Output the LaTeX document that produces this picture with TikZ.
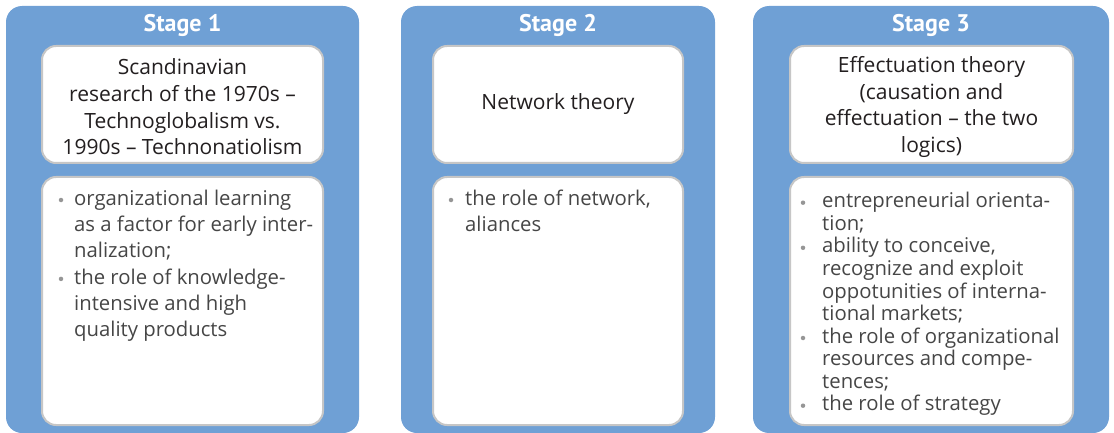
\documentclass[tikz,border=0pt]{standalone}
\usepackage{fontspec}
\setmainfont{Open Sans}
\newfontfamily\titlefont{PT Sans}
\definecolor{panelblue}{RGB}{111,160,213}
\definecolor{boxline}{RGB}{198,198,198}
\definecolor{headtxt}{RGB}{35,31,32}
\definecolor{bultxt}{RGB}{70,70,70}
\definecolor{dotgray}{RGB}{150,150,150}
\tikzset{
  panel/.style={fill=panelblue, draw=none, rounded corners=16pt, inner sep=0pt},
  wbox/.style={fill=white, draw=boxline, line width=2pt, rounded corners=14pt, inner sep=0pt},
  stagetitle/.style={text=white, font=\titlefont\fontsize{24}{28}\selectfont\bfseries, anchor=base, inner sep=0pt},
  headtext/.style={text=headtxt, font=\fontsize{21}{26.6}\selectfont, align=center, inner sep=0pt},
  bullettext/.style={text=bultxt, align=left, inner sep=0pt, anchor=north west},
  bdot/.style={circle, fill=dotgray, inner sep=0pt, minimum size=4.5pt},
}
\begin{document}
\begin{tikzpicture}[x=1pt, y=-1pt]
\useasboundingbox (0,0) rectangle (1114,433);
% panels
\node[panel, minimum width=353pt, minimum height=427pt] (p1) at (182.5,219.5) {};
\node[panel, minimum width=314pt, minimum height=427pt] (p2) at (558,219.5) {};
\node[panel, minimum width=356pt, minimum height=427pt] (p3) at (931,219.5) {};
% titles
\node[stagetitle] (t1) at (182.5,32) {Stage 1};
\node[stagetitle] (t2) at (558,32) {Stage 2};
\node[stagetitle] (t3) at (931,32) {Stage 3};
% heading boxes
\node[wbox, minimum width=281pt, minimum height=117pt] (h1) at (182.5,104.5) {};
\node[wbox, minimum width=250pt, minimum height=117pt] (h2) at (558,104.5) {};
\node[wbox, minimum width=283pt, minimum height=117pt] (h3) at (931.5,104.5) {};
% bullet boxes
\node[wbox, minimum width=281pt, minimum height=248pt] (b1) at (182.5,301) {};
\node[wbox, minimum width=250pt, minimum height=248pt] (b2) at (558,301) {};
\node[wbox, minimum width=283pt, minimum height=248pt] (b3) at (931.5,301) {};
% heading texts
\node[headtext] (ht1) at (182.5,107) {Scandinavian\\research of the 1970s --\\Technoglobalism vs.\\1990s -- Technonatiolism};
\node[headtext] (ht2) at (558,104.5) {Network theory};
\node[headtext] (ht3) at (931.5,107) {Effectuation theory\\(causation and\\effectuation -- the two\\logics)};
% bullet texts
\node[bullettext, font=\fontsize{20.3}{26.3}\selectfont] (bt1) at (74,186.6)
 {\strut organizational learning\\as a factor for early inter-\\nalization;\\the role of knowledge-\\intensive and high\\quality products};
\node[bullettext, font=\fontsize{20.3}{26.3}\selectfont] (bt2) at (465,186.6)
 {\strut the role of network,\\aliances};
\node[bullettext, font=\fontsize{20.3}{22.55}\selectfont] (bt3) at (822,191.9)
 {\strut entrepreneurial orienta-\\tion;\\ability to conceive,\\recognize and exploit\\oppotunities of interna-\\tional markets;\\the role of organizational\\resources and compe-\\tences;\\the role of strategy};
% bullet dots
\node[bdot] (d11) at (61,200) {};
\node[bdot] (d12) at (61,278.9) {};
\node[bdot] (d21) at (451,200) {};
\node[bdot] (d31) at (803,202.7) {};
\node[bdot] (d32) at (803,247.8) {};
\node[bdot] (d33) at (803,338) {};
\node[bdot] (d34) at (803,405.7) {};
\end{tikzpicture}
\end{document}
